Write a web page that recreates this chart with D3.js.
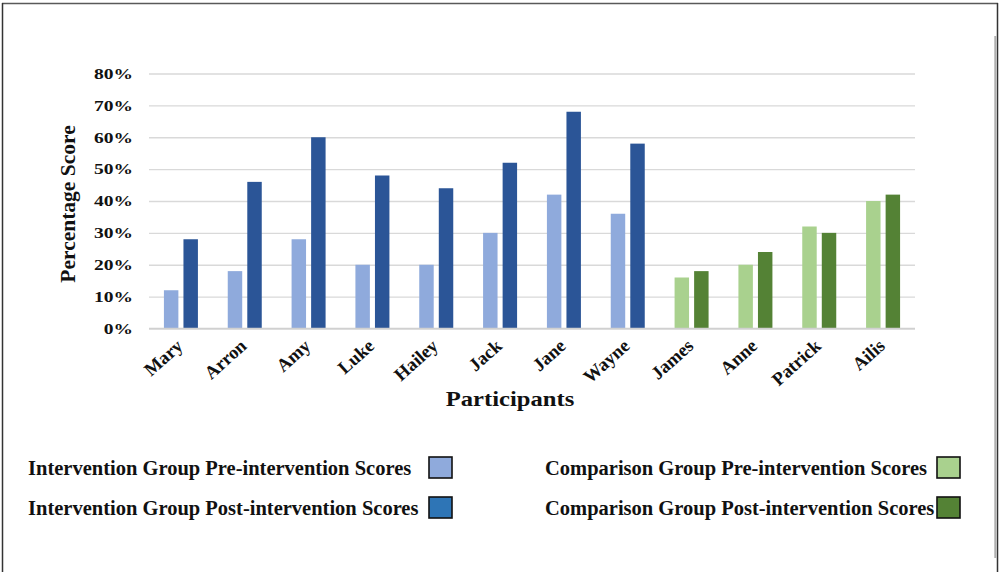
<!DOCTYPE html>
<html>
<head>
<meta charset="utf-8">
<script src="https://cdn.jsdelivr.net/npm/d3@7"></script>
<style>
  html, body { margin: 0; padding: 0; background: #fff; }
  svg { display: block; }
  text { font-family: "Liberation Serif", "Times New Roman", serif; font-weight: bold; fill: #111; }
</style>
</head>
<body>
<svg id="chart" width="999" height="572"></svg>
<script>
// Participants and their scores (fractions of 100%)
const participants = ["Mary", "Arron", "Amy", "Luke", "Hailey", "Jack", "Jane", "Wayne", "James", "Anne", "Patrick", "Ailis"];
const groupOf = ["int", "int", "int", "int", "int", "int", "int", "int", "cmp", "cmp", "cmp", "cmp"];
const preScores  = [0.12, 0.18, 0.28, 0.20, 0.20, 0.30, 0.42, 0.36, 0.16, 0.20, 0.32, 0.40];
const postScores = [0.28, 0.46, 0.60, 0.48, 0.44, 0.52, 0.68, 0.58, 0.18, 0.24, 0.30, 0.42];
const yTicks = [0, 0.1, 0.2, 0.3, 0.4, 0.5, 0.6, 0.7, 0.8];
const legendLabels = [
  "Intervention Group Pre-intervention Scores",
  "Intervention Group Post-intervention Scores",
  "Comparison Group Pre-intervention Scores",
  "Comparison Group Post-intervention Scores"
];

const barColor = {
  int: { pre: "#8FAADC", post: "#2B5597" },
  cmp: { pre: "#A9D18E", post: "#548235" }
};
const legendColors = ["#8FAADC", "#2E75B6", "#A9D18E", "#548235"];

const svg = d3.select("#chart");

// Frame
svg.append("line").attr("x1", 2).attr("x2", 998).attr("y1", 3.5).attr("y2", 3.5)
  .attr("stroke", "#595959").attr("stroke-width", 1.5);
svg.append("line").attr("x1", 2.5).attr("x2", 2.5).attr("y1", 3).attr("y2", 572)
  .attr("stroke", "#333").attr("stroke-width", 1.5);
svg.append("line").attr("x1", 997.5).attr("x2", 997.5).attr("y1", 3).attr("y2", 572)
  .attr("stroke", "#333").attr("stroke-width", 1.5);
svg.append("line").attr("x1", 995.3).attr("x2", 995.3).attr("y1", 36).attr("y2", 558)
  .attr("stroke", "#b0b0b0").attr("stroke-width", 2);

const x = d3.scaleBand().domain(participants).range([149, 915]).padding(0);
const y = d3.scaleLinear().domain([0, 0.8]).range([328.5, 73.5]);
const sub = d3.scaleBand().domain(["pre", "post"]).range([0, 34]).paddingInner(0.26);

// Gridlines and percentage ticks
const yAxis = d3.axisLeft(y).tickValues(yTicks).tickFormat(d3.format(".0%"))
  .tickSize(-(915 - 149)).tickPadding(16);
const gy = svg.append("g").attr("transform", "translate(149,0)").call(yAxis);
gy.select(".domain").remove();
gy.selectAll(".tick line").attr("stroke", "#d9d9d9").attr("stroke-width", 1.3);
gy.selectAll(".tick text")
  .attr("font-size", 15).attr("fill", "#111")
  .attr("font-family", "'Liberation Serif', 'Times New Roman', serif").attr("font-weight", "bold")
  .attr("text-anchor", "end")
  .attr("transform", function () {
    const tx = +d3.select(this).attr("x");
    return `translate(${tx},0) scale(1.3,1) translate(${-tx},0)`;
  });

// Bars
const groups = svg.append("g").selectAll("g")
  .data(participants.map((p, i) => ({ p, g: groupOf[i], pre: preScores[i], post: postScores[i] })))
  .join("g")
  .attr("transform", d => `translate(${x(d.p) + x.bandwidth() / 2 - 17},0)`);

groups.selectAll("rect")
  .data(d => [{ k: "pre", v: d.pre, g: d.g }, { k: "post", v: d.post, g: d.g }])
  .join("rect")
  .attr("x", d => sub(d.k))
  .attr("width", sub.bandwidth())
  .attr("y", d => y(d.v))
  .attr("height", d => y(0) - y(d.v))
  .attr("fill", d => barColor[d.g][d.k]);

// Baseline
svg.append("line").attr("x1", 149).attr("x2", 915).attr("y1", y(0)).attr("y2", y(0))
  .attr("stroke", "#d0d0d0").attr("stroke-width", 1.5);

// Category labels
svg.append("g").selectAll("text")
  .data(participants)
  .join("text")
  .attr("font-size", 18.5)
  .attr("text-anchor", "end")
  .attr("transform", d => `translate(${x(d) + x.bandwidth() / 2 + 3},${y(0) + 19}) rotate(-42)`)
  .text(d => d);

// Axis titles
svg.append("text")
  .attr("font-size", 21.5)
  .attr("text-anchor", "middle")
  .attr("transform", "translate(75,204) rotate(-90)")
  .text("Percentage Score");

svg.append("text")
  .attr("font-size", 22)
  .attr("text-anchor", "middle")
  .attr("transform", "translate(510,406) scale(1.12,1)")
  .text("Participants");

// Legend
const legendPos = [
  { tx: 28, sx: 429, y: 475 },
  { tx: 28, sx: 429, y: 515 },
  { tx: 545, sx: 937, y: 475 },
  { tx: 545, sx: 937, y: 515 }
];
const lg = svg.append("g").selectAll("g")
  .data(legendLabels.map((t, i) => ({ t, c: legendColors[i], pos: legendPos[i] })))
  .join("g");
lg.append("text")
  .attr("x", d => d.pos.tx).attr("y", d => d.pos.y)
  .attr("font-size", 20.5)
  .text(d => d.t);
lg.append("rect")
  .attr("x", d => d.pos.sx).attr("y", d => d.pos.y - 18)
  .attr("width", 23).attr("height", 21)
  .attr("fill", d => d.c)
  .attr("stroke", "#111").attr("stroke-width", 1.6);
</script>
</body>
</html>
